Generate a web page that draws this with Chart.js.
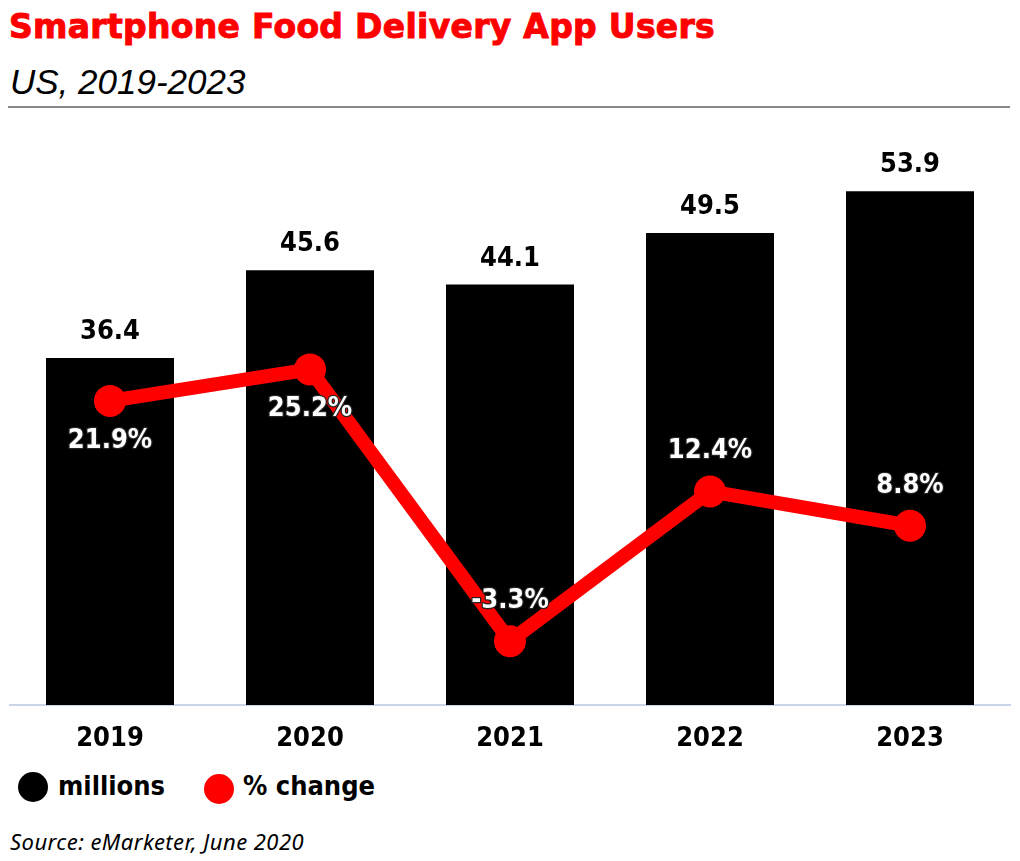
<!DOCTYPE html>
<html>
<head>
<meta charset="utf-8">
<script src="https://cdn.jsdelivr.net/npm/chart.js@4.4.1/dist/chart.umd.min.js"></script>
<style>
  html, body { margin: 0; padding: 0; background: #fff; }
  body { width: 1020px; height: 861px; position: relative; overflow: hidden; }
  .title { position: absolute; left: 9px; top: 11px; color: #ff0000; font: bold 33px/32px "DejaVu Sans", sans-serif; letter-spacing: 0.3px; -webkit-text-stroke: 1px #ff0000; white-space: nowrap; }
  .subtitle { position: absolute; left: 10px; top: 64px; color: #000; font: italic 35px/35px "Liberation Sans", sans-serif; white-space: nowrap; }
  .rule { position: absolute; left: 8px; top: 106px; width: 1002px; height: 2px; background: #888; }
  .wrap { position: absolute; left: -6px; top: 110px; width: 1032px; height: 655px; }
  .legend { position: absolute; top: 770px; left: 0; height: 36px; font: bold 27px "DejaVu Sans Condensed", "DejaVu Sans", sans-serif; }
  .legend span { position: absolute; white-space: nowrap; }
  .dot { width: 30px; height: 30px; border-radius: 50%; }
  .source { position: absolute; left: 10px; top: 830px; font: italic 22px/22px "Noto Sans", sans-serif; letter-spacing: 0.45px; color: #000; white-space: nowrap; }
</style>
</head>
<body>
<div class="title">Smartphone Food Delivery App Users</div>
<div class="subtitle">US, 2019-2023</div>
<div class="rule"></div>
<div class="wrap"><canvas id="chart"></canvas></div>
<div class="legend">
  <span class="dot" style="left:18px;top:2px;background:#000"></span>
  <span style="left:58px;top:0">millions</span>
  <span class="dot" style="left:204px;top:4px;background:#ff0000"></span>
  <span style="left:243px;top:0">% change</span>
</div>
<div class="source">Source: eMarketer, June 2020</div>

<script>
// chart values
var years = ['2019', '2020', '2021', '2022', '2023'];
var users = [36.4, 45.6, 44.1, 49.5, 53.9];
var change = [21.9, 25.2, -3.3, 12.4, 8.8];

// where the % label goes relative to its point
var changeSide = ['below', 'below', 'above', 'above', 'above'];

var labelFamily = '"DejaVu Sans Condensed", "DejaVu Sans", sans-serif';
var labelFont = 'bold 27px ' + labelFamily;

var valueLabels = {
  id: 'valueLabels',
  afterDatasetsDraw: function(chart) {
    var ctx = chart.ctx;
    ctx.save();
    ctx.font = labelFont;
    ctx.textAlign = 'center';
    ctx.textBaseline = 'middle';

    chart.getDatasetMeta(0).data.forEach(function(bar, i) {
      ctx.fillStyle = '#000';
      ctx.fillText(users[i].toFixed(1), bar.x, bar.y - 26);
    });

    chart.getDatasetMeta(1).data.forEach(function(pt, i) {
      var y = changeSide[i] == 'below' ? pt.y + 40 : pt.y - 40;
      var txt = change[i].toFixed(1) + '%';
      ctx.lineWidth = 2.5;
      ctx.lineJoin = 'round';
      ctx.strokeStyle = '#222';
      ctx.strokeText(txt, pt.x, y);
      ctx.fillStyle = '#fff';
      ctx.fillText(txt, pt.x, y);
    });
    ctx.restore();
  }
};

var config = {
  data: {
    labels: years,
    datasets: [
      {
        type: 'bar',
        label: 'millions',
        data: users,
        backgroundColor: '#000',
        barPercentage: 0.8,
        categoryPercentage: 0.8,
        yAxisID: 'y',
        order: 1
      },
      {
        type: 'line',
        label: '% change',
        data: change,
        borderColor: '#ff0000',
        backgroundColor: '#ff0000',
        borderWidth: 14,
        pointRadius: 16,
        pointHoverRadius: 16,
        pointBackgroundColor: '#ff0000',
        pointBorderWidth: 0,
        tension: 0,
        yAxisID: 'y1',
        order: 0
      }
    ]
  },
  options: {
    responsive: true,
    maintainAspectRatio: false,
    animation: false,
    layout: { padding: { left: 0, right: 0, top: 23, bottom: 0 } },
    plugins: {
      legend: { display: false },
      tooltip: { enabled: false }
    },
    scales: {
      x: {
        grid: { display: false, drawTicks: false },
        border: { display: true, color: '#c9d4e8', width: 2 },
        ticks: {
          color: '#000',
          padding: 18,
          font: { family: labelFamily, size: 27, weight: 'bold' }
        },
        afterFit: function(s) { s.height = 60; }
      },
      y: { display: false, min: 0, max: 60 },
      y1: { display: false, min: -10, max: 50, position: 'right' }
    }
  },
  plugins: [valueLabels]
};

window.myChart = new Chart(document.getElementById('chart'), config);
</script>
</body>
</html>
